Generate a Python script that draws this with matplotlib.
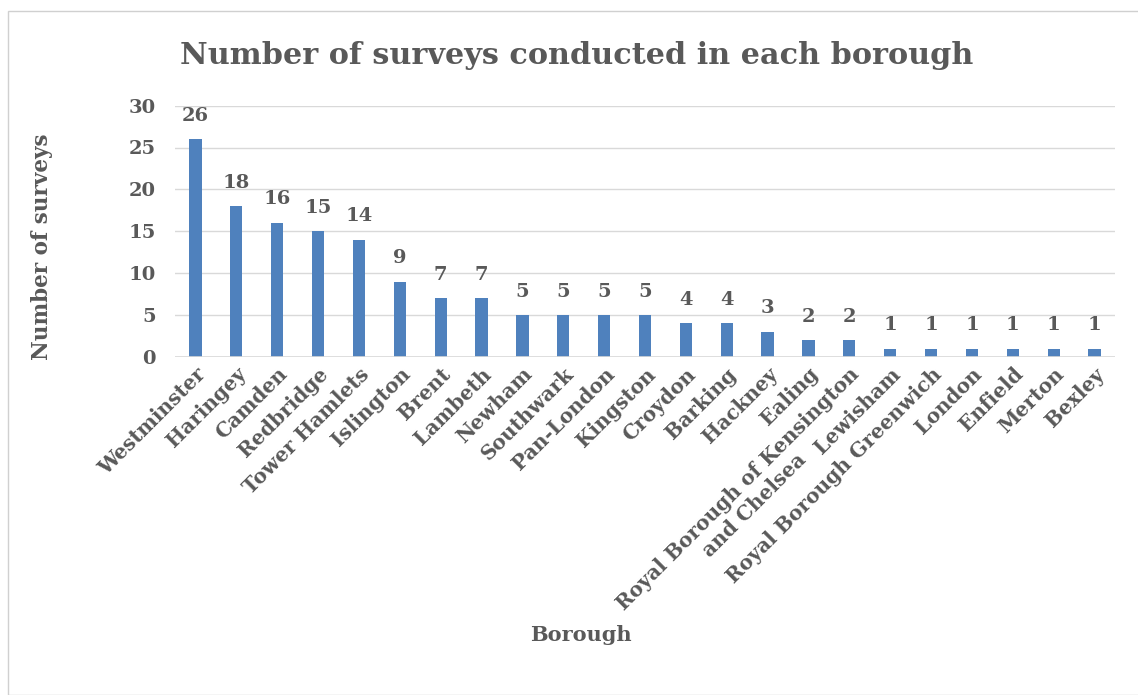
import matplotlib
matplotlib.use("Agg")
import matplotlib.pyplot as plt
from matplotlib.patches import Rectangle

boroughs = ["Westminster", "Haringey", "Camden", "Redbridge", "Tower Hamlets",
            "Islington", "Brent", "Lambeth", "Newham", "Southwark", "Pan-London",
            "Kingston", "Croydon", "Barking", "Hackney", "Ealing",
            "Royal Borough of Kensington\nand Chelsea", "Lewisham",
            "Royal Borough Greenwich", "London", "Enfield", "Merton", "Bexley"]
surveys = [26, 18, 16, 15, 14, 9, 7, 7, 5, 5, 5, 5, 4, 4, 3, 2, 2, 1, 1, 1, 1, 1, 1]
yticks = [0, 5, 10, 15, 20, 25, 30]

TXT = "#595959"
BAR = "#4f81bd"
GRID = "#d9d9d9"
FONT = "DejaVu Serif"

W, H = 1138, 695
fig = plt.figure(figsize=(W / 100, H / 100), dpi=100)
fig.patches.append(Rectangle((8 / W, 0), 1.2, 1 - 11 / H, transform=fig.transFigure,
                             fill=False, edgecolor="#d0d0d0", linewidth=1))

ax = fig.add_axes([175 / W, 1 - 357 / H, (1115 - 175) / W, (357 - 105.6) / H])
x = list(range(len(boroughs)))
ax.bar(x, surveys, width=0.3, color=BAR, zorder=3)
ax.set_xlim(-0.5, len(boroughs) - 0.5)
ax.set_ylim(0, 30)
ax.set_yticks(yticks)
ax.set_yticklabels([str(t) for t in yticks], fontfamily=FONT, fontweight="bold",
                   fontsize=14, color=TXT)
ax.grid(axis="y", color=GRID, linewidth=1, zorder=0)
for s in ax.spines.values():
    s.set_visible(False)
ax.axhline(0, color=GRID, linewidth=1.2, zorder=4)
ax.tick_params(axis="both", length=0)
ax.tick_params(axis="y", pad=14)
ax.set_xticks(x)
ax.set_xticklabels(boroughs, rotation=45, ha="right", rotation_mode="anchor",
                   fontfamily=FONT, fontweight="bold", fontsize=14.5, color=TXT,
                   multialignment="center")
ax.tick_params(axis="x", pad=5)

for xi, v in zip(x, surveys):
    ax.annotate(str(v), (xi, v), xytext=(0, 10.5), textcoords="offset points",
                ha="center", va="bottom", fontfamily=FONT, fontweight="bold",
                fontsize=14, color=TXT)

fig.text(577 / W, 1 - 55 / H, "Number of surveys conducted in each borough",
         ha="center", va="center", fontfamily=FONT,
         fontweight="bold", fontsize=21.8, color=TXT)
fig.text(42 / W, 1 - 247 / H, "Number of surveys", rotation=90, ha="center",
         va="center", fontfamily=FONT, fontweight="bold", fontsize=15.5, color=TXT)
fig.text(581 / W, 1 - 635 / H, "Borough", ha="center", va="center",
         fontfamily=FONT, fontweight="bold", fontsize=15, color=TXT)

fig.savefig("out.png", dpi=100)
